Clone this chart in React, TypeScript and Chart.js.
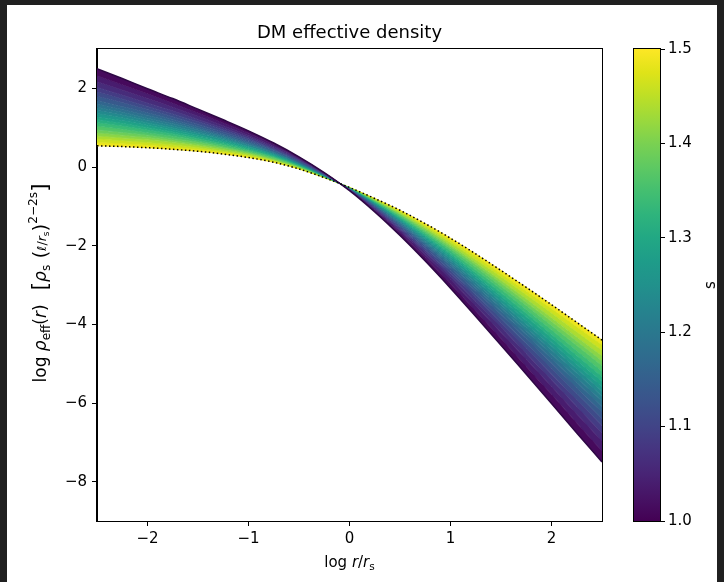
import React, { useEffect, useRef } from 'react';
import { Chart, registerables } from 'chart.js';

Chart.register(...registerables);

// ---------- data ----------
const XS = [-2.5, -2.25, -2.0, -1.75, -1.5, -1.25, -1.0, -0.75, -0.5, -0.25, 0, 0.25, 0.5, 0.75, 1.0, 1.25, 1.5, 1.75, 2.0, 2.25, 2.5];

const S_VALUES = [1.0, 1.025, 1.05, 1.075, 1.1, 1.125, 1.15, 1.175, 1.2, 1.225, 1.25, 1.275, 1.3, 1.325, 1.35, 1.375, 1.4, 1.425, 1.45, 1.475, 1.5];

const Y_S1000 = [2.50, 2.25, 1.99, 1.74, 1.47, 1.20, 0.92, 0.61, 0.26, -0.14, -0.60, -1.14, -1.74, -2.39, -3.08, -3.80, -4.53, -5.27, -6.01, -6.76, -7.50];
const Y_S1025 = [2.32, 2.09, 1.86, 1.62, 1.37, 1.12, 0.86, 0.57, 0.23, -0.15, -0.59, -1.11, -1.68, -2.30, -2.97, -3.66, -4.36, -5.07, -5.78, -6.51, -7.22];
const Y_S1050 = [2.17, 1.96, 1.74, 1.52, 1.29, 1.05, 0.80, 0.53, 0.21, -0.16, -0.59, -1.08, -1.63, -2.23, -2.86, -3.53, -4.21, -4.89, -5.58, -6.28, -6.97];
const Y_S1075 = [2.03, 1.83, 1.63, 1.43, 1.21, 0.99, 0.76, 0.49, 0.19, -0.17, -0.58, -1.06, -1.59, -2.16, -2.78, -3.42, -4.07, -4.74, -5.41, -6.09, -6.76];
const Y_S1100 = [1.91, 1.73, 1.54, 1.35, 1.15, 0.94, 0.72, 0.46, 0.17, -0.18, -0.58, -1.04, -1.55, -2.11, -2.70, -3.32, -3.96, -4.61, -5.26, -5.92, -6.57];
const Y_S1125 = [1.80, 1.64, 1.46, 1.28, 1.09, 0.89, 0.68, 0.44, 0.15, -0.19, -0.57, -1.02, -1.51, -2.05, -2.63, -3.24, -3.86, -4.49, -5.12, -5.76, -6.40];
const Y_S1150 = [1.70, 1.54, 1.38, 1.21, 1.03, 0.84, 0.64, 0.41, 0.13, -0.19, -0.57, -1.00, -1.48, -2.00, -2.56, -3.15, -3.75, -4.36, -4.98, -5.61, -6.23];
const Y_S1175 = [1.61, 1.46, 1.31, 1.15, 0.98, 0.80, 0.61, 0.39, 0.12, -0.20, -0.56, -0.99, -1.45, -1.96, -2.50, -3.08, -3.67, -4.26, -4.87, -5.48, -6.09];
const Y_S1200 = [1.52, 1.39, 1.24, 1.10, 0.94, 0.77, 0.58, 0.37, 0.11, -0.21, -0.56, -0.97, -1.42, -1.92, -2.45, -3.01, -3.58, -4.17, -4.76, -5.36, -5.95];
const Y_S1225 = [1.44, 1.32, 1.18, 1.04, 0.89, 0.73, 0.55, 0.35, 0.09, -0.21, -0.56, -0.96, -1.39, -1.88, -2.39, -2.94, -3.50, -4.08, -4.65, -5.24, -5.83];
const Y_S1250 = [1.36, 1.25, 1.12, 0.99, 0.85, 0.70, 0.53, 0.33, 0.08, -0.22, -0.55, -0.94, -1.37, -1.84, -2.34, -2.88, -3.43, -3.99, -4.55, -5.13, -5.70];
const Y_S1275 = [1.28, 1.18, 1.06, 0.94, 0.81, 0.66, 0.50, 0.31, 0.07, -0.22, -0.55, -0.93, -1.34, -1.80, -2.29, -2.81, -3.35, -3.90, -4.45, -5.02, -5.58];
const Y_S1300 = [1.21, 1.11, 1.00, 0.89, 0.76, 0.63, 0.47, 0.29, 0.06, -0.23, -0.55, -0.92, -1.32, -1.76, -2.24, -2.75, -3.28, -3.81, -4.35, -4.91, -5.45];
const Y_S1325 = [1.13, 1.04, 0.94, 0.84, 0.72, 0.59, 0.44, 0.27, 0.04, -0.23, -0.54, -0.90, -1.29, -1.73, -2.19, -2.69, -3.20, -3.72, -4.25, -4.79, -5.33];
const Y_S1350 = [1.04, 0.96, 0.87, 0.78, 0.67, 0.55, 0.41, 0.25, 0.03, -0.24, -0.54, -0.89, -1.26, -1.68, -2.13, -2.62, -3.11, -3.62, -4.14, -4.67, -5.19];
const Y_S1375 = [0.95, 0.88, 0.81, 0.72, 0.63, 0.51, 0.38, 0.22, 0.02, -0.24, -0.54, -0.87, -1.23, -1.64, -2.08, -2.54, -3.03, -3.52, -4.03, -4.54, -5.05];
const Y_S1400 = [0.87, 0.81, 0.75, 0.67, 0.58, 0.48, 0.36, 0.20, 0.00, -0.25, -0.53, -0.86, -1.21, -1.60, -2.03, -2.48, -2.95, -3.44, -3.93, -4.43, -4.93];
const Y_S1425 = [0.79, 0.74, 0.69, 0.62, 0.54, 0.44, 0.33, 0.18, -0.01, -0.25, -0.53, -0.84, -1.18, -1.56, -1.98, -2.42, -2.88, -3.35, -3.83, -4.32, -4.80];
const Y_S1450 = [0.71, 0.67, 0.62, 0.56, 0.49, 0.40, 0.30, 0.16, -0.02, -0.26, -0.53, -0.83, -1.15, -1.52, -1.92, -2.35, -2.79, -3.25, -3.71, -4.19, -4.66];
const Y_S1475 = [0.62, 0.59, 0.55, 0.50, 0.44, 0.37, 0.27, 0.14, -0.04, -0.27, -0.52, -0.81, -1.13, -1.48, -1.86, -2.27, -2.71, -3.15, -3.60, -4.06, -4.52];
const Y_S1500 = [0.54, 0.52, 0.49, 0.45, 0.40, 0.33, 0.24, 0.12, -0.05, -0.27, -0.52, -0.80, -1.10, -1.44, -1.81, -2.21, -2.63, -3.06, -3.50, -3.95, -4.40];

const CURVES = [Y_S1000, Y_S1025, Y_S1050, Y_S1075, Y_S1100, Y_S1125, Y_S1150, Y_S1175, Y_S1200, Y_S1225, Y_S1250, Y_S1275, Y_S1300, Y_S1325, Y_S1350, Y_S1375, Y_S1400, Y_S1425, Y_S1450, Y_S1475, Y_S1500];

const X_TICKS = [-2, -1, 0, 1, 2];
const Y_TICKS = [-8, -6, -4, -2, 0, 2];
const CB_TICKS = [1.0, 1.1, 1.2, 1.3, 1.4, 1.5];

// viridis colours (style)
const VIRIDIS = ['#440154', '#471365', '#482475', '#463480', '#414487', '#3b528b', '#355f8d', '#2f6c8e', '#2a788e', '#25848e', '#21918c', '#1e9c89', '#22a884', '#2fb47c', '#44bf70', '#5ec962', '#7ad151', '#9bd93c', '#bddf26', '#dfe318', '#fde725'];
const VIRIDIS_MID = ['#460a5c', '#481c6e', '#472c7a', '#443c84', '#3e4b89', '#38598c', '#32668e', '#2d728e', '#287e8e', '#238a8d', '#20978b', '#20a286', '#29ae80', '#3aba76', '#51c469', '#6ccd5a', '#8ad547', '#acdc31', '#cee11f', '#eee51e'];

const FONT = '"DejaVu Sans", sans-serif';
const BASE = 15;

type Part = { t: string; size?: number; it?: boolean; dy?: number };

function drawRich(ctx: CanvasRenderingContext2D, parts: Part[], cx: number, cy: number, rot: number, base = BASE) {
  ctx.save();
  ctx.translate(cx, cy);
  ctx.rotate(rot);
  const fontOf = (p: Part) => `${p.it ? 'italic ' : ''}${p.size ?? base}px ${FONT}`;
  let w = 0;
  for (const p of parts) {
    ctx.font = fontOf(p);
    w += ctx.measureText(p.t).width;
  }
  let x = -w / 2;
  ctx.textBaseline = 'alphabetic';
  ctx.textAlign = 'left';
  ctx.fillStyle = '#000';
  for (const p of parts) {
    ctx.font = fontOf(p);
    ctx.fillText(p.t, x, p.dy ?? 0);
    x += ctx.measureText(p.t).width;
  }
  ctx.restore();
}

const fmt = (v: number) => (v < 0 ? '\u2212' + Math.abs(v) : String(v));

const Y_LABEL: Part[] = [
  { t: 'log ' },
  { t: 'ρ', it: true },
  { t: 'eff', size: 12, dy: 3.5 },
  { t: '(' },
  { t: 'r', it: true },
  { t: ')' },
  { t: '  [', size: 22, dy: 1 },
  { t: 'ρ', it: true },
  { t: 's', size: 12, dy: 3.5 },
  { t: ' (', size: 20, dy: 1 },
  { t: 'ℓ', it: true, size: 12.5 },
  { t: '/', size: 12.5 },
  { t: 'r', it: true, size: 12.5 },
  { t: 's', size: 9, dy: 2.5 },
  { t: ')', size: 20, dy: 1 },
  { t: '2\u22122s', size: 12, dy: -9 },
  { t: ']', size: 22, dy: 1 },
];

const X_LABEL: Part[] = [
  { t: 'log ' },
  { t: 'r', it: true },
  { t: '/' },
  { t: 'r', it: true },
  { t: 's', size: 10.5, dy: 3 },
];

export default function App() {
  const mainRef = useRef<HTMLCanvasElement>(null);
  const cbRef = useRef<HTMLCanvasElement>(null);

  useEffect(() => {
    document.body.style.margin = '0';
    const datasets: any[] = CURVES.map((ys, i) => ({
      label: 's=' + S_VALUES[i],
      data: XS.map((x, k) => ({ x, y: ys[k] })),
      borderColor: i === 0 ? '#2e0845' : VIRIDIS[i],
      borderWidth: i === 0 ? 1.5 : 1,
      backgroundColor: i === 0 ? 'rgba(0,0,0,0)' : VIRIDIS_MID[i - 1],
      fill: i === 0 ? false : '-1',
      pointRadius: 0,
      cubicInterpolationMode: 'monotone',
      order: i === 0 ? -1 : 0,
    }));
    datasets.push({
      label: 'dotted',
      data: XS.map((x, k) => ({ x, y: Y_S1500[k] })),
      borderColor: '#000',
      borderWidth: 1.5,
      borderDash: [1.5, 2.5],
      fill: false,
      pointRadius: 0,
      cubicInterpolationMode: 'monotone',
      order: -2,
    });

    const tickFont = { family: FONT, size: BASE };
    const gridOpts = { display: true, drawOnChartArea: false, drawTicks: true, tickLength: 5, color: '#000', lineWidth: 1 };

    const framePlugin = {
      id: 'frame',
      afterDatasetsDraw(chart: any) {
        const { ctx, chartArea: a } = chart;
        ctx.save();
        ctx.strokeStyle = '#000';
        ctx.lineWidth = 1;
        ctx.strokeRect(Math.round(a.left) - 0.5, Math.round(a.top) - 0.5, Math.round(a.right - a.left) + 1, Math.round(a.bottom - a.top) + 1);
        ctx.restore();
      },
      afterDraw(chart: any) {
        const { ctx, chartArea: a } = chart;
        ctx.save();
        ctx.font = `18px ${FONT}`;
        ctx.fillStyle = '#000';
        ctx.textAlign = 'center';
        ctx.textBaseline = 'alphabetic';
        ctx.fillText('DM effective density', (a.left + a.right) / 2, a.top - 11);
        ctx.restore();
        drawRich(ctx, X_LABEL, (a.left + a.right) / 2, 567, 0);
        drawRich(ctx, Y_LABEL, 46, (a.top + a.bottom) / 2 - 2, -Math.PI / 2, 17);
      },
    };

    const main = new Chart(mainRef.current!, {
      type: 'line',
      data: { datasets },
      options: {
        animation: false,
        responsive: false,
        maintainAspectRatio: false,
        devicePixelRatio: 1,
        layout: { padding: { left: 0, top: 49, right: 18, bottom: 0 } },
        plugins: { legend: { display: false }, tooltip: { enabled: false }, title: { display: false } },
        scales: {
          x: {
            type: 'linear',
            min: -2.5,
            max: 2.5,
            afterBuildTicks: (s: any) => { s.ticks = X_TICKS.map((v) => ({ value: v })); },
            afterFit: (s: any) => { s.height = 61; },
            ticks: { callback: (v: any) => fmt(Number(v)), font: tickFont, color: '#000', padding: 4, maxRotation: 0, autoSkip: false },
            grid: gridOpts,
            border: { display: true, color: '#000', width: 1 },
          },
          y: {
            type: 'linear',
            min: -9,
            max: 3,
            afterBuildTicks: (s: any) => { s.ticks = Y_TICKS.map((v) => ({ value: v })); },
            afterFit: (s: any) => { s.width = 97; },
            ticks: { callback: (v: any) => fmt(Number(v)), font: tickFont, color: '#000', padding: 5, autoSkip: false },
            grid: gridOpts,
            border: { display: true, color: '#000', width: 1 },
          },
        },
      } as any,
      plugins: [framePlugin],
    });

    const cbPlugin = {
      id: 'cbar',
      beforeDatasetsDraw(chart: any) {
        const { ctx, chartArea: a, scales } = chart;
        const y = scales.y;
        const g = ctx.createLinearGradient(0, y.getPixelForValue(1.0), 0, y.getPixelForValue(1.5));
        VIRIDIS.forEach((c, i) => g.addColorStop(i / (VIRIDIS.length - 1), c));
        ctx.save();
        ctx.fillStyle = g;
        ctx.fillRect(a.left, a.top, a.right - a.left, a.bottom - a.top);
        ctx.strokeStyle = '#000';
        ctx.lineWidth = 1;
        ctx.strokeRect(Math.round(a.left) - 0.5, Math.round(a.top) - 0.5, Math.round(a.right - a.left) + 1, Math.round(a.bottom - a.top) + 1);
        ctx.restore();
      },
      afterDraw(chart: any) {
        const { ctx, chartArea: a } = chart;
        drawRich(ctx, [{ t: 's' }], 115, (a.top + a.bottom) / 2, -Math.PI / 2);
      },
    };

    const cb = new Chart(cbRef.current!, {
      type: 'line',
      data: { datasets: [] },
      options: {
        animation: false,
        responsive: false,
        maintainAspectRatio: false,
        devicePixelRatio: 1,
        layout: { padding: { left: 34, top: 49, right: 0, bottom: 61 } },
        plugins: { legend: { display: false }, tooltip: { enabled: false } },
        scales: {
          x: { type: 'linear', display: false, min: 0, max: 1 },
          y: {
            type: 'linear',
            position: 'right',
            min: 1.0,
            max: 1.5,
            afterBuildTicks: (s: any) => { s.ticks = CB_TICKS.map((v) => ({ value: v })); },
            afterFit: (s: any) => { s.width = 64; },
            ticks: { callback: (v: any) => Number(v).toFixed(1), font: tickFont, color: '#000', padding: 3, autoSkip: false },
            grid: gridOpts,
            border: { display: false },
          },
        },
      } as any,
      plugins: [cbPlugin],
    });

    return () => {
      main.destroy();
      cb.destroy();
    };
  }, []);

  return (
    <div style={{ position: 'relative', width: 724, height: 582, background: '#202020', overflow: 'hidden' }}>
      <div style={{ position: 'absolute', left: 7, top: 5, width: 710, height: 577, background: '#fff' }} />
      <canvas ref={mainRef} width={620} height={582} style={{ position: 'absolute', left: 0, top: 0, width: 620, height: 582 }} />
      <canvas ref={cbRef} width={124} height={582} style={{ position: 'absolute', left: 600, top: 0, width: 124, height: 582 }} />
    </div>
  );
}
